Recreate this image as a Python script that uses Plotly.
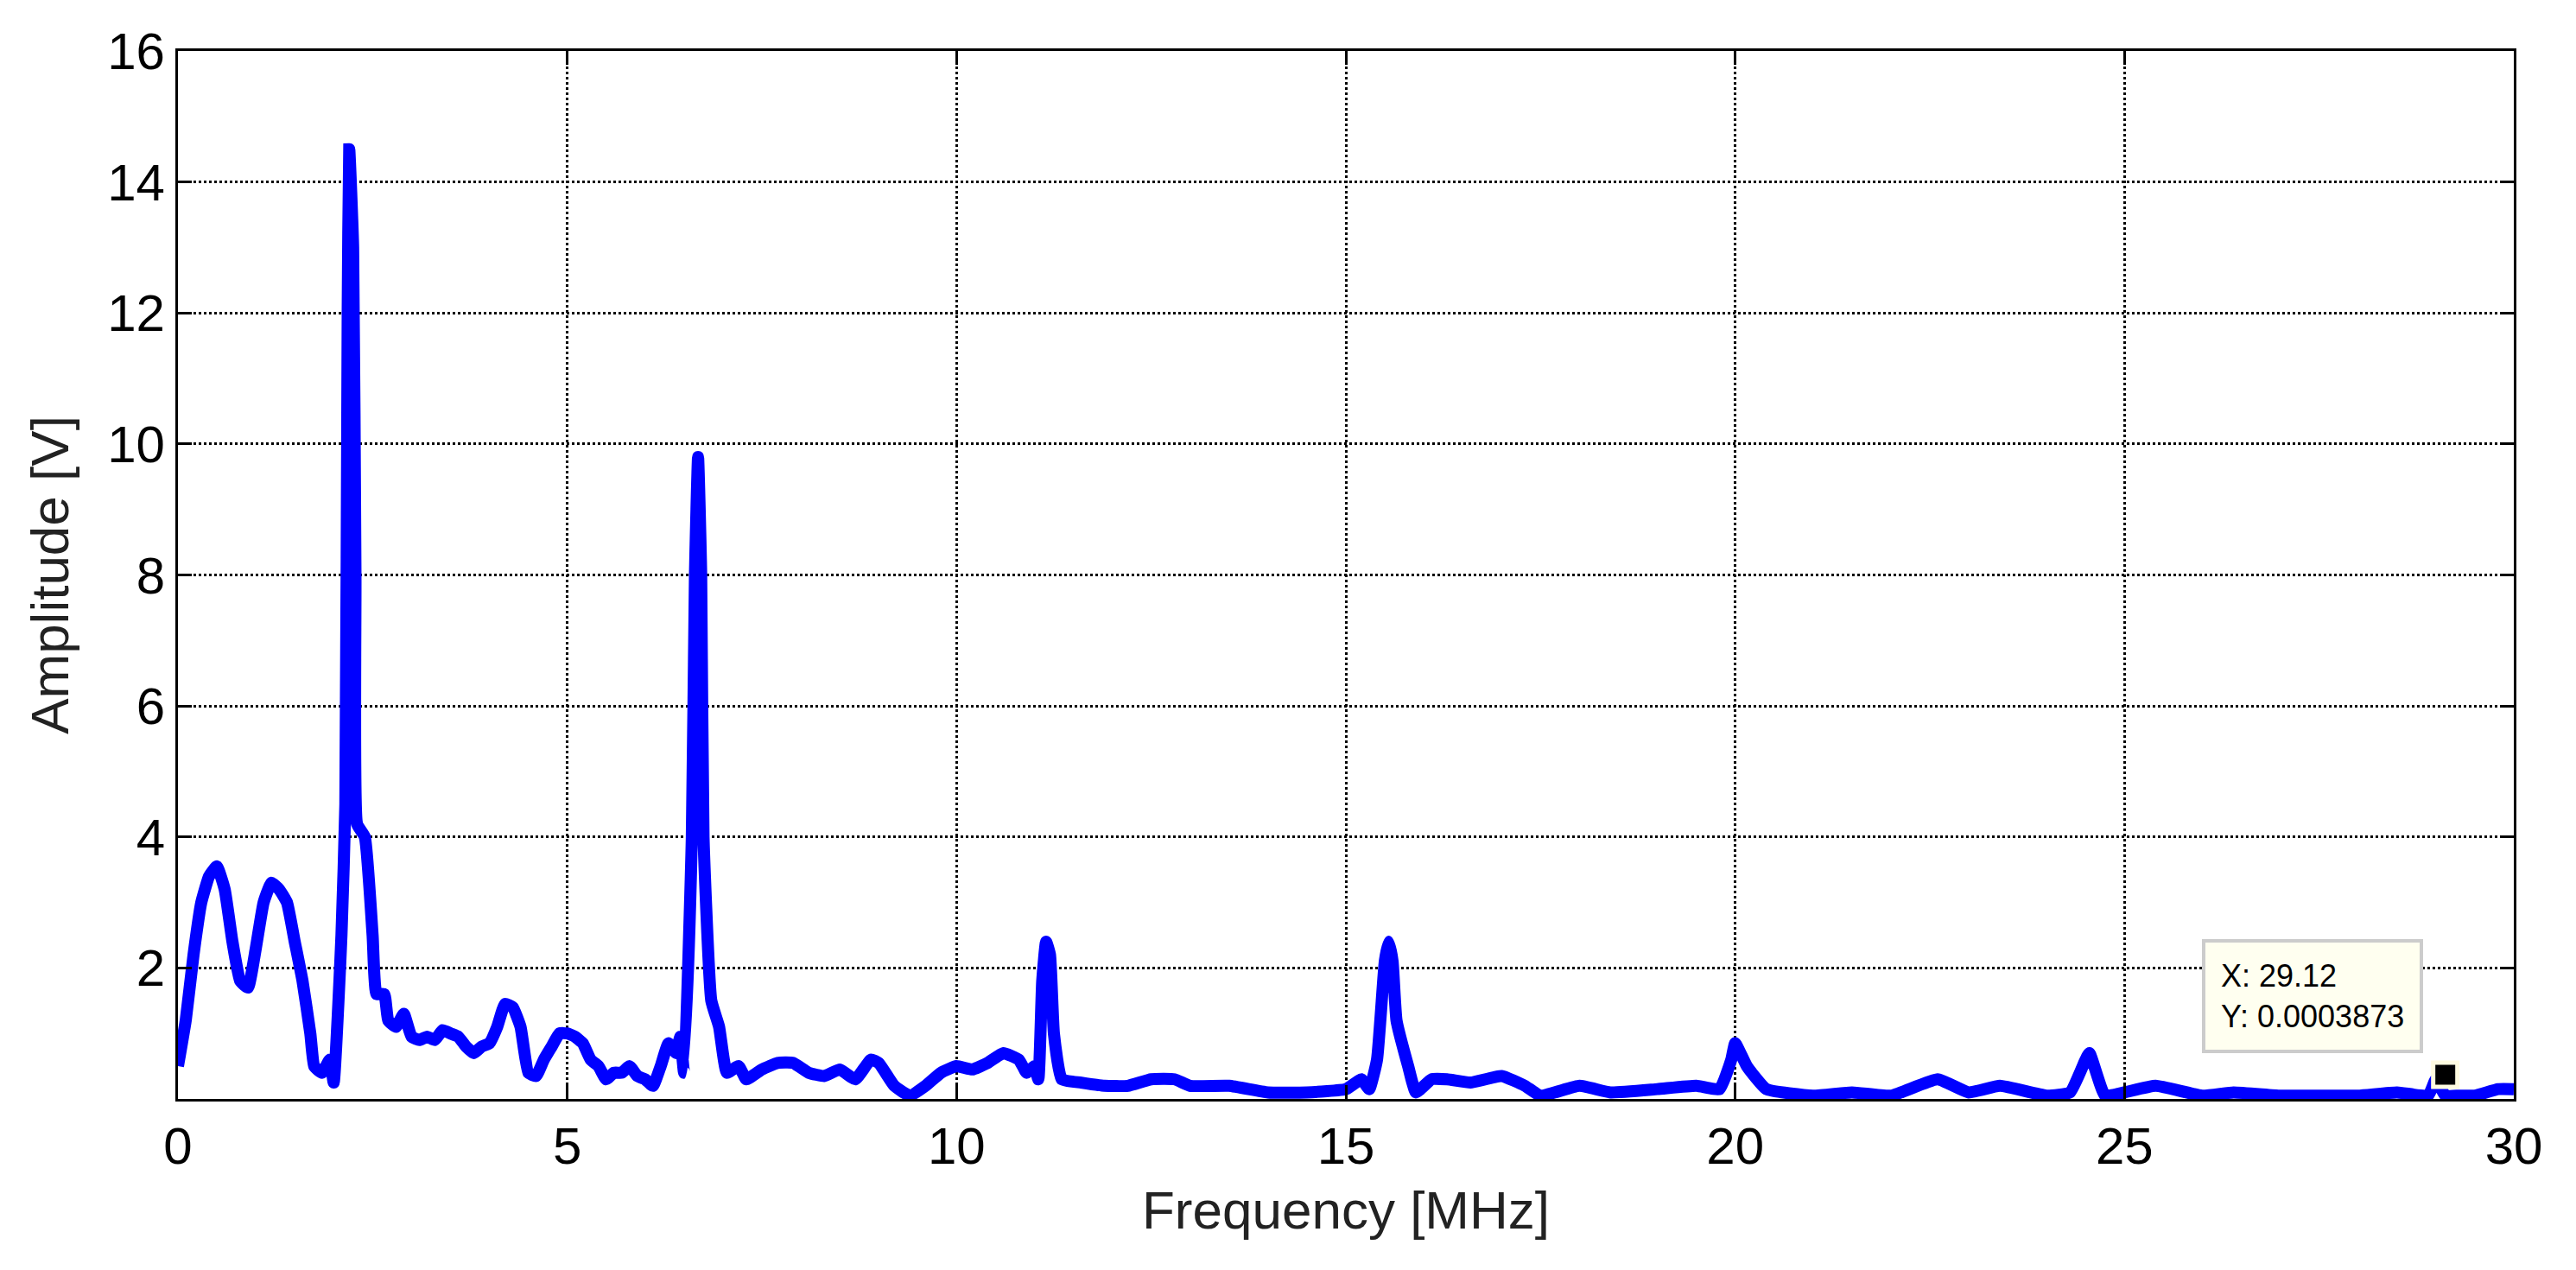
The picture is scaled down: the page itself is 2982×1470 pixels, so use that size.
import plotly.graph_objects as go

freq = [0,0.1,0.2,0.3,0.4,0.5,0.6,0.7,0.8,0.9,1.0,1.1,1.2,1.3,1.4,1.5,1.6,1.7,1.75,1.85,1.95,2.0,2.1,2.15,2.18,2.2,2.25,2.28,2.3,2.4,2.5,2.55,2.65,2.7,2.8,2.9,3.0,3.1,3.2,3.3,3.4,3.5,3.6,3.7,3.8,3.9,4.0,4.1,4.2,4.3,4.4,4.5,4.6,4.7,4.8,4.9,5.0,5.1,5.2,5.3,5.4,5.5,5.6,5.7,5.8,5.9,6.0,6.1,6.2,6.3,6.4,6.45,6.5,6.6,6.64,6.68,6.72,6.75,6.85,6.95,7.05,7.2,7.3,7.5,7.7,7.9,8.1,8.3,8.5,8.7,8.9,9.0,9.2,9.4,9.6,9.8,10.0,10.2,10.4,10.6,10.8,10.9,11.0,11.05,11.1,11.15,11.2,11.25,11.35,11.6,11.9,12.2,12.5,12.8,13.0,13.5,14.0,14.5,15.0,15.2,15.3,15.4,15.5,15.55,15.6,15.65,15.8,15.9,16.1,16.3,16.6,17.0,17.3,17.5,18.0,18.4,19.0,19.5,19.8,19.95,20.0,20.15,20.4,21.0,21.5,22.0,22.6,23.0,23.4,24.0,24.3,24.5,24.55,24.75,25.0,25.4,26.0,26.4,27.0,27.5,28.0,28.5,28.9,29.0,29.12,29.3,29.5,29.8,30]
amp = [0.5,1.2,2.2,3.0,3.4,3.55,3.2,2.4,1.8,1.7,2.3,3.0,3.3,3.2,3.0,2.4,1.8,1.0,0.5,0.4,0.6,0.25,2.5,4.5,12,14.5,13,8,4.2,4.0,2.5,1.6,1.6,1.2,1.1,1.3,0.95,0.9,0.95,0.9,1.05,1.0,0.95,0.8,0.7,0.8,0.85,1.1,1.45,1.4,1.1,0.4,0.35,0.6,0.8,1.0,1.0,0.95,0.85,0.6,0.5,0.3,0.4,0.4,0.5,0.35,0.3,0.2,0.5,0.85,0.7,0.95,0.4,4,8,9.8,8,4,1.5,1.1,0.4,0.5,0.3,0.45,0.55,0.55,0.4,0.35,0.45,0.3,0.6,0.55,0.2,0.05,0.2,0.4,0.5,0.45,0.55,0.7,0.6,0.4,0.5,0.3,1.8,2.4,2.2,1.0,0.3,0.25,0.2,0.2,0.3,0.3,0.2,0.2,0.1,0.1,0.15,0.3,0.15,0.6,2.1,2.4,2.1,1.2,0.5,0.1,0.3,0.3,0.25,0.35,0.2,0.05,0.2,0.1,0.15,0.2,0.15,0.6,0.85,0.5,0.15,0.05,0.1,0.05,0.3,0.1,0.2,0.05,0.1,0.6,0.7,0.05,0.1,0.2,0.05,0.1,0.05,0.05,0.05,0.1,0.05,0.3,0.05,0.05,0.05,0.15,0.15]
cursor_x = [29.12]
cursor_y = [0.37]

fig = go.Figure()
fig.add_trace(go.Scatter(x=freq, y=amp, mode="lines",
                         line=dict(color="#0000ff", width=14, shape="spline", smoothing=0.4),
                         showlegend=False))
fig.add_trace(go.Scatter(x=cursor_x, y=cursor_y, mode="markers",
                         marker=dict(symbol="square", size=28, color="black",
                                     line=dict(color="#fffbe0", width=5)),
                         showlegend=False))
fig.add_annotation(x=0.961, y=0.044, xref="paper", yref="paper", xanchor="right", yanchor="bottom",
                   text="X: 29.12<br>Y: 0.0003873", showarrow=False, align="left",
                   font=dict(family="Liberation Sans", size=36, color="black"),
                   bgcolor="#fffff0", bordercolor="#cccccc", borderwidth=4, borderpad=18)

axis_common = dict(showline=True, linecolor="black", linewidth=3, mirror="ticks",
                   showgrid=True, gridcolor="black", griddash="dot", gridwidth=3,
                   ticks="inside", ticklen=16, tickwidth=3, tickcolor="black",
                   zeroline=False, tickfont=dict(family="Liberation Sans", size=60, color="black"))
fig.update_xaxes(range=[0, 30], tickvals=[0,5,10,15,20,25,30],
                 title=dict(text="Frequency [MHz]", font=dict(family="Liberation Sans", size=62, color="#222"), standoff=20),
                 **axis_common)
fig.update_yaxes(range=[0, 16], tickvals=[2,4,6,8,10,12,14,16],
                 title=dict(text="Amplitude [V]", font=dict(family="Liberation Sans", size=62, color="#222"), standoff=25),
                 **axis_common)
fig.update_layout(width=2982, height=1470, plot_bgcolor="white", paper_bgcolor="white",
                  margin=dict(l=198, r=80, t=51, b=206))
fig.write_html("out.html")
